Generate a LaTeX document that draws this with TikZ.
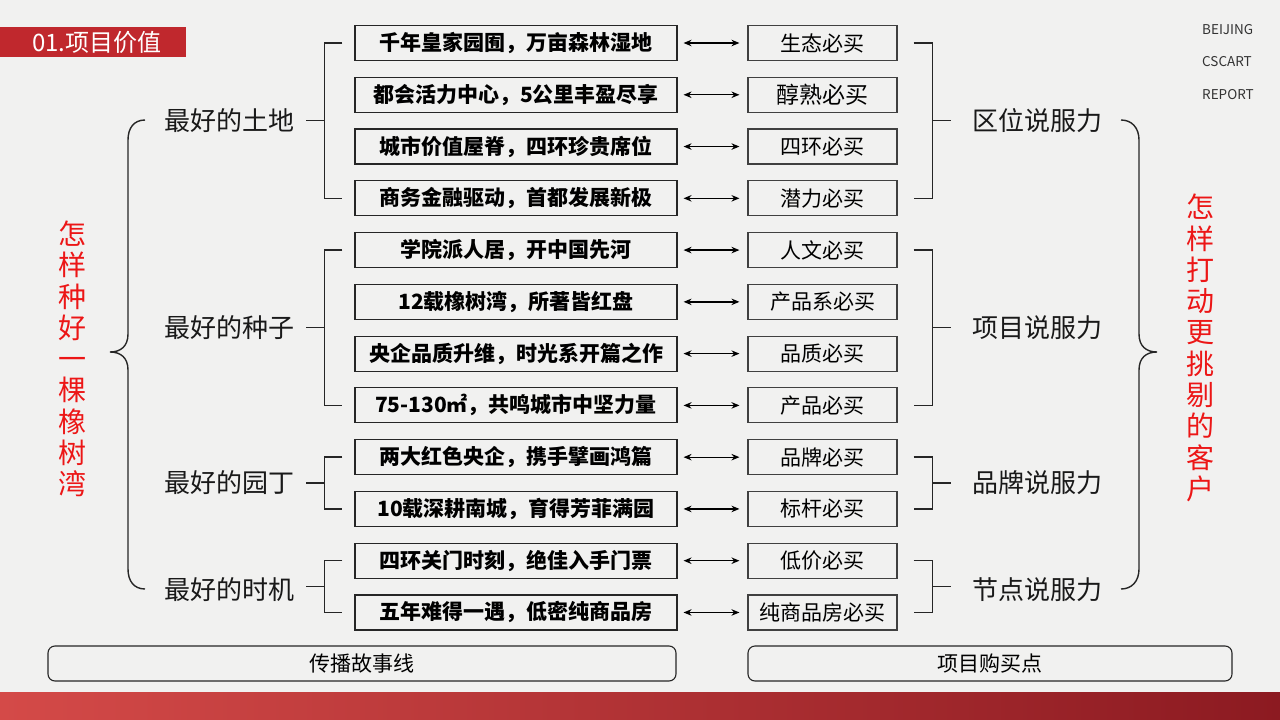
\documentclass[tikz,border=0pt]{standalone}
\usepackage{fontspec}
\setmainfont{Noto Sans CJK SC}
\usepackage{xcolor}
\usetikzlibrary{arrows.meta, positioning, calc}

\definecolor{pagegray}{RGB}{241,241,240}
\definecolor{titlered}{RGB}{192,40,45}
\definecolor{bandlight}{RGB}{212,74,72}
\definecolor{banddark}{RGB}{140,26,33}
\definecolor{slogred}{RGB}{236,22,22}

\begin{document}
\begin{tikzpicture}[x=1pt, y=-1pt, node distance=15.67pt and 69.9pt,
  story/.style={draw=black!85, line width=1.1pt, minimum width=322pt, minimum height=35pt,
    inner sep=0pt, font=\fontsize{21}{25}\selectfont\bfseries},
  point/.style={draw=black!75, line width=1.1pt, minimum width=149pt, minimum height=35pt,
    inner sep=0pt, font=\fontsize{21}{25}\selectfont},
  link/.style={{Stealth[length=8pt,width=6.5pt]}-{Stealth[length=8pt,width=6.5pt]},
    line width=1.3pt, shorten <=6pt, shorten >=8pt},
  bracket/.style={line width=1.4pt, black!85},
  grp/.style={inner sep=0pt, font=\fontsize{26}{30}\selectfont, text=black!90},
  slogan/.style={text=slogred, align=center, inner sep=0pt, font=\fontsize{28}{31.3}\selectfont},
  stage/.style={draw=black!85, line width=1.1pt, rounded corners=7pt, minimum height=35pt,
    inner sep=0pt, font=\fontsize{21}{25}\selectfont},
  tag/.style={anchor=west, inner sep=0pt, font=\fontsize{13.5}{15}\selectfont, text=black!80}]
\useasboundingbox (0,0) rectangle (1280,720);
\fill[pagegray] (0,0) rectangle (1280,720);
\shade[left color=bandlight, right color=banddark] (0,692) rectangle (1280,720);

% title and corner tag
\fill[titlered] (0,27) rectangle (186,57);
\node[text=white, inner sep=0pt, font=\fontsize{24}{28}\selectfont] (title) at (97,42) {01.项目价值};
\node[tag] (bj) at (1202,30) {BEIJING};
\node[tag] (cs) at (1202,62) {CSCART};
\node[tag] (rp) at (1202,95) {REPORT};

% story lines
\node[story] (s1) at (516,43) {千年皇家园囿，万亩森林湿地};
\node[story] (s2) [below=of s1] {都会活力中心，5公里丰盈尽享};
\node[story] (s3) [below=of s2] {城市价值屋脊，四环珍贵席位};
\node[story] (s4) [below=of s3] {商务金融驱动，首都发展新极};
\node[story] (s5) [below=of s4] {学院派人居，开中国先河};
\node[story] (s6) [below=of s5] {12载橡树湾，所著皆红盘};
\node[story] (s7) [below=of s6] {央企品质升维，时光系开篇之作};
\node[story] (s8) [below=of s7] {75-130㎡，共鸣城市中坚力量};
\node[story] (s9) [below=of s8] {两大红色央企，携手擘画鸿篇};
\node[story] (s10) [below=of s9] {10载深耕南城，育得芳菲满园};
\node[story] (s11) [below=of s10] {四环关门时刻，绝佳入手门票};
\node[story] (s12) [below=of s11] {五年难得一遇，低密纯商品房};

% buying points
\node[point] (p1) [right=of s1] {生态必买};
\node[point, font=\fontsize{23}{27}\selectfont] (p2) [right=of s2] {醇熟必买};
\node[point] (p3) [right=of s3] {四环必买};
\node[point] (p4) [right=of s4] {潜力必买};
\node[point] (p5) [right=of s5] {人文必买};
\node[point] (p6) [right=of s6] {产品系必买};
\node[point] (p7) [right=of s7] {品质必买};
\node[point] (p8) [right=of s8] {产品必买};
\node[point] (p9) [right=of s9] {品牌必买};
\node[point] (p10) [right=of s10] {标杆必买};
\node[point] (p11) [right=of s11] {低价必买};
\node[point] (p12) [right=of s12] {纯商品房必买};

\draw[link] (s1) -- (p1);
\draw[link] (s2) -- (p2);
\draw[link] (s3) -- (p3);
\draw[link] (s4) -- (p4);
\draw[link] (s5) -- (p5);
\draw[link] (s6) -- (p6);
\draw[link] (s7) -- (p7);
\draw[link] (s8) -- (p8);
\draw[link] (s9) -- (p9);
\draw[link] (s10) -- (p10);
\draw[link] (s11) -- (p11);
\draw[link] (s12) -- (p12);

% left groups
\coordinate (m1) at ($(s1.west)!0.5!(s4.west)$);
\coordinate (m2) at ($(s5.west)!0.5!(s8.west)$);
\coordinate (m3) at ($(s9.west)!0.5!(s10.west)$);
\coordinate (m4) at ($(s11.west)!0.5!(s12.west)$);
\node[grp, left=60pt of m1] (g1) {最好的土地};
\node[grp, left=60pt of m2] (g2) {最好的种子};
\node[grp, left=60pt of m3] (g3) {最好的园丁};
\node[grp, left=60pt of m4, yshift=-3pt] (g4) {最好的时机};
\draw[bracket] ([xshift=-12pt]s1.west) -- ++(-18,0) |- ([xshift=-12pt]s4.west);
\draw[bracket] ([xshift=-12pt]s5.west) -- ++(-18,0) |- ([xshift=-12pt]s8.west);
\draw[bracket] ([xshift=-12pt]s9.west) -- ++(-18,0) |- ([xshift=-12pt]s10.west);
\draw[bracket] ([xshift=-12pt]s11.west) -- ++(-18,0) |- ([xshift=-12pt]s12.west);
\draw[bracket] ([xshift=-30pt]m1) -- ([xshift=12pt]g1.east);
\draw[bracket] ([xshift=-30pt]m2) -- ([xshift=12pt]g2.east);
\draw[bracket] ([xshift=-30pt]m3) -- ([xshift=12pt]g3.east);
\draw[bracket] ([xshift=-30pt]m4) -- ++(-18,0);

% right groups
\coordinate (n1) at ($(p1.east)!0.5!(p4.east)$);
\coordinate (n2) at ($(p5.east)!0.5!(p8.east)$);
\coordinate (n3) at ($(p9.east)!0.5!(p10.east)$);
\coordinate (n4) at ($(p11.east)!0.5!(p12.east)$);
\node[grp, right=75pt of n1] (r1) {区位说服力};
\node[grp, right=75pt of n2] (r2) {项目说服力};
\node[grp, right=75pt of n3] (r3) {品牌说服力};
\node[grp, right=75pt of n4, yshift=-3pt] (r4) {节点说服力};
\draw[bracket] ([xshift=16pt]p1.east) -- ++(19,0) |- ([xshift=16pt]p4.east);
\draw[bracket] ([xshift=16pt]p5.east) -- ++(19,0) |- ([xshift=16pt]p8.east);
\draw[bracket] ([xshift=16pt]p9.east) -- ++(19,0) |- ([xshift=16pt]p10.east);
\draw[bracket] ([xshift=16pt]p11.east) -- ++(19,0) |- ([xshift=16pt]p12.east);
\draw[bracket] ([xshift=35pt]n1) -- ([xshift=-22pt]r1.west);
\draw[bracket] ([xshift=35pt]n2) -- ([xshift=-22pt]r2.west);
\draw[bracket] ([xshift=35pt]n3) -- ([xshift=-22pt]r3.west);
\draw[bracket] ([xshift=35pt]n4) -- ++(18,0);

% big braces
\draw[bracket] (145,120) .. controls (134,120) and (128,128) .. (128,140) -- (128,334)
  .. controls (128,346) and (121,352) .. (110,352) .. controls (121,352) and (128,358) .. (128,370)
  -- (128,569) .. controls (128,581) and (134,589) .. (145,589);
\draw[bracket] (1121,120) .. controls (1132,120) and (1139,128) .. (1139,140) -- (1139,334)
  .. controls (1139,346) and (1146,352) .. (1157,352) .. controls (1146,352) and (1139,358) .. (1139,370)
  -- (1139,569) .. controls (1139,581) and (1132,589) .. (1121,589);

% slogans
\node[slogan] (lq) at (72,359) {怎\\样\\种\\好\\一\\棵\\橡\\树\\湾};
\node[slogan] (rq) at (1200,348) {怎\\样\\打\\动\\更\\挑\\剔\\的\\客\\户};

% bottom captions
\node[stage, minimum width=628pt] (t1) at (362,663.5) {传播故事线};
\node[stage, minimum width=484pt] (t2) at (990,663.5) {项目购买点};
\end{tikzpicture}
\end{document}
